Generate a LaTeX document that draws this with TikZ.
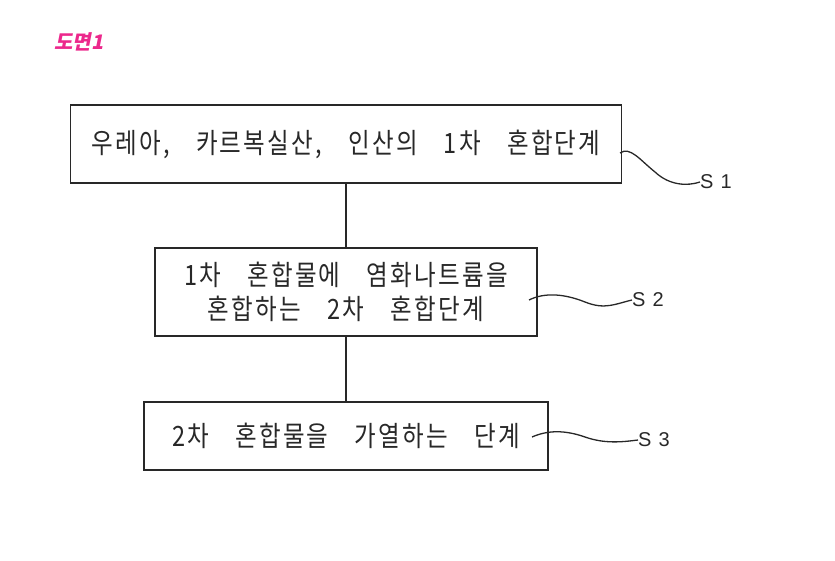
\documentclass[tikz,border=0pt]{standalone}
\usepackage{fontspec}
\newfontfamily\kr[LetterSpace=8,WordSpace=3.5,FakeStretch=0.84]{Noto Sans CJK KR}
\newfontfamily\krtitle[FakeSlant=0.2]{Noto Sans CJK KR}
\setsansfont{Liberation Sans}
\definecolor{inkgray}{RGB}{40,40,40}
\definecolor{titlepink}{RGB}{236,40,140}
\tikzset{
  stepbox/.style={draw=inkgray, line width=1.7pt, rectangle, inner sep=0pt,
    font=\kr\fontsize{28}{34}\selectfont, text=inkgray, align=center},
  link/.style={draw=inkgray, line width=1.4pt},
  wave/.style={draw=inkgray, line width=1.3pt},
  tag/.style={font=\sffamily\fontsize{20}{20}\selectfont, text=inkgray, inner sep=0pt, anchor=west},
}
\begin{document}
\begin{tikzpicture}[x=1pt,y=-1pt]
\useasboundingbox (0,0) rectangle (835,561);
\node[font=\krtitle\bfseries\fontsize{20}{20}\selectfont, text=titlepink, anchor=west, inner sep=0pt] (title) at (54,42) {도면1};
\node[stepbox, minimum width=551pt, minimum height=78pt] (b1) at (346,144) {우레아, 카르복실산, 인산의 1차 혼합단계};
\node[stepbox, minimum width=382pt, minimum height=88pt] (b2) at (346,292) {1차 혼합물에 염화나트륨을\\혼합하는 2차 혼합단계};
\node[stepbox, minimum width=404pt, minimum height=68pt] (b3) at (346,436) {2차 혼합물을 가열하는 단계};
\draw[link] (b1) -- (b2);
\draw[link] (b2) -- (b3);
\node[tag] (s1) at (700,182) {S\hspace{7pt}1};
\node[tag] (s2) at (632,300) {S\hspace{7pt}2};
\node[tag] (s3) at (638,440) {S\hspace{7pt}3};
\coordinate (c1) at (620,153);
\coordinate (c2) at (529,300);
\coordinate (c3) at (532,437);
\draw[wave] (c1) .. controls (630,146) and (640,160) .. (655,172) .. controls (670,186) and (688,186) .. (s1.west);
\draw[wave] (c2) .. controls (545,292) and (565,294) .. (585,302) .. controls (605,310) and (615,304) .. (s2.west);
\draw[wave] (c3) .. controls (548,430) and (565,430) .. (585,437) .. controls (605,444) and (622,442) .. (s3.west);
\end{tikzpicture}
\end{document}
